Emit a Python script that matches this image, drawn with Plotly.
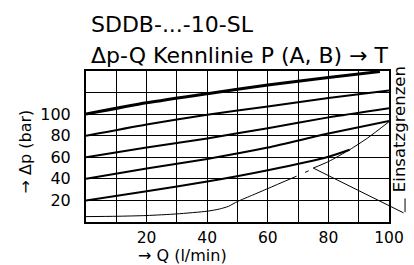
import plotly.graph_objects as go

# ---- data ----
q_100 = [0, 20, 40, 60, 80, 97]
dp_100 = [100, 110.5, 119, 127, 134, 139.5]

q_80 = [0, 20, 40, 60, 80, 100]
dp_80 = [80, 90.5, 99.5, 107, 115, 122]

q_60 = [0, 20, 40, 60, 80, 100]
dp_60 = [60, 69, 77.5, 87, 97, 105.5]

q_40 = [0, 20, 40, 60, 80, 100]
dp_40 = [40, 49.5, 58.5, 69, 82, 93.7]

q_20 = [0, 20, 40, 60, 80, 87]
dp_20 = [20, 28.5, 37.5, 48, 60.5, 67]

# usage-limit curve (Einsatzgrenzen), drawn with a small break as in the original
q_lim = [0, 10, 20, 30, 40, 44, 47, 50, 55, 60, 69.5, None, 72.3, 73.5, None, 75, 80, 87, 93, 100]
dp_lim = [5, 5.3, 6, 7.5, 10, 12, 14.5, 19, 25, 31, 42.5, None, 46, 47.5, None, 50, 56, 67, 78, 93]

# leader for the label: from the curve point to the label foot, then up
leader_q = [75, 105.3]
leader_dp = [50, 7.8, 21.9]

x_grid = [0, 10, 20, 30, 40, 50, 60, 70, 80, 90, 100]
x_text = ["", "", "20", "", "40", "", "60", "", "80", "", "100"]
y_grid = [0, 20, 40, 60, 80, 100, 120, 140]
y_text = ["", "20", "40", "60", "80", "100", "", ""]

title1 = "SDDB-...-10-SL"
title2 = "Δp-Q Kennlinie P (A, B) → T"
x_title = "→ Q (l/min)"
y_title = "→ Δp (bar)"
limit_label = "Einsatzgrenzen"

FONT = "DejaVu Sans"
X_MAX, Y_MAX = 100, 140
PLOT_H = 265 - 71 - 43

fig = go.Figure()
for q, dp, w in [(q_100, dp_100, 3), (q_80, dp_80, 2), (q_60, dp_60, 2),
                 (q_40, dp_40, 2), (q_20, dp_20, 2)]:
    fig.add_trace(go.Scatter(x=q, y=dp, mode="lines",
                             line=dict(color="black", width=w, shape="spline", smoothing=0.6),
                             showlegend=False, hoverinfo="skip"))
fig.add_trace(go.Scatter(x=q_lim, y=dp_lim, mode="lines",
                         line=dict(color="black", width=1, shape="spline", smoothing=0.6),
                         showlegend=False, hoverinfo="skip", connectgaps=False))

axis_common = dict(showgrid=True, gridcolor="black", gridwidth=1, zeroline=False,
                   showline=True, linecolor="black", linewidth=2, mirror=True, automargin=False,
                   ticks="")
fig.update_xaxes(range=[0, X_MAX], tickmode="array", tickvals=x_grid, ticktext=x_text,
                 ticklabelstandoff=0, tickfont=dict(family=FONT, size=15.5, color="black"),
                 **axis_common)
fig.update_yaxes(range=[0, Y_MAX], tickmode="array", tickvals=y_grid, ticktext=y_text,
                 ticklabelstandoff=10, tickfont=dict(family=FONT, size=16, color="black"),
                 **axis_common)

# leader lines (annotation arrows are not clipped to the plot area)
fig.add_annotation(x=leader_q[0], y=leader_dp[0], ax=leader_q[1], ay=leader_dp[1],
                   xref="x", yref="y", axref="x", ayref="y", text="", showarrow=True,
                   arrowhead=0, arrowwidth=1, arrowcolor="black", standoff=0, startstandoff=0)
fig.add_annotation(x=leader_q[1] / X_MAX, y=leader_dp[2] / Y_MAX, xref="paper", yref="paper",
                   ax=0, ay=(leader_dp[2] - leader_dp[1]) / Y_MAX * PLOT_H, axref="pixel", ayref="pixel",
                   text="", showarrow=True, arrowhead=0, arrowwidth=1, arrowcolor="black",
                   standoff=0, startstandoff=0)

fig.add_annotation(x=1.033, y=0.615, xref="paper", yref="paper", text=limit_label, textangle=-90,
                   showarrow=False, xanchor="center", yanchor="middle",
                   font=dict(family=FONT, size=16.5, color="black"))

fig.add_annotation(x=0.01, y=1.31, xref="paper", yref="paper", text=title1, showarrow=False,
                   xanchor="left", yanchor="middle", font=dict(family=FONT, size=22, color="black"))
fig.add_annotation(x=0.01, y=1.105, xref="paper", yref="paper", text=title2, showarrow=False,
                   xanchor="left", yanchor="middle", font=dict(family=FONT, size=22, color="black"))
fig.add_annotation(x=0.32, y=-0.222, xref="paper", yref="paper", text=x_title, showarrow=False,
                   xanchor="center", yanchor="middle", font=dict(family=FONT, size=16, color="black"))
fig.add_annotation(x=-0.2, y=0.47, xref="paper", yref="paper", text=y_title, showarrow=False,
                   textangle=-90, xanchor="center", yanchor="middle",
                   font=dict(family=FONT, size=16, color="black"))

fig.update_layout(width=414, height=265, margin=dict(l=86, r=25, t=71, b=43, autoexpand=False),
                  paper_bgcolor="white", plot_bgcolor="white", showlegend=False)

fig.write_html("out.html", config={"displayModeBar": False},
               post_script="document.body.style.margin='0';document.body.style.overflow='hidden';")
